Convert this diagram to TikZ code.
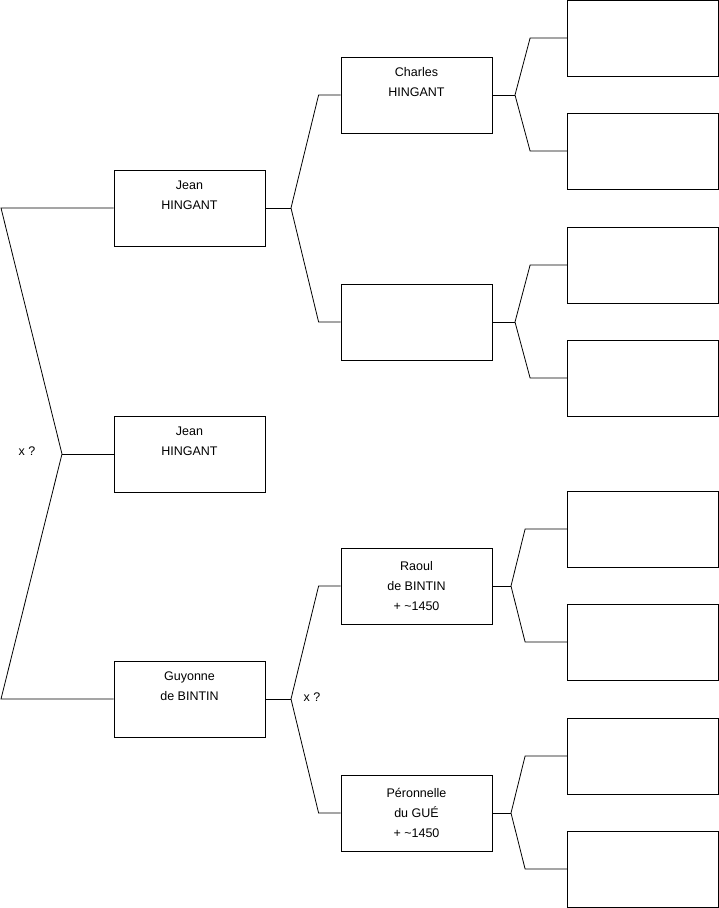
\documentclass[tikz,border=0pt]{standalone}
\usepackage{fontspec}
\setmainfont{Liberation Sans}
\usepackage{tikz}
\usetikzlibrary{positioning}

\begin{document}
\begin{tikzpicture}[
  x=1pt, y=-1pt,
  person/.style={draw, line width=0.8pt, align=center, minimum width=151pt,
              minimum height=76pt, inner sep=0pt, font=\fontsize{12.5}{20}\selectfont},
  tag/.style={font=\fontsize{12.5}{15}\selectfont, inner sep=0pt},
  link/.style={line width=0.8pt, line join=miter}
]
\useasboundingbox (0,0) rectangle (719,908);
% generation 1
\node[person] (jean) at (189.5,208) {Jean\\HINGANT\\\strut};
\node[person] (jeanb) at (189.5,454) {Jean\\HINGANT\\\strut};
\node[person] (guyonne) at (189.5,699) {Guyonne\\de BINTIN\\\strut};
% generation 2
\node[person] (charles) at (416.5,95) {Charles\\HINGANT\\\strut};
\node[person] (blank) at (416.5,322) {};
\node[person] (raoul) at (416.5,586) {Raoul\\de BINTIN\\+ \textasciitilde1450};
\node[person] (peronnelle) at (416.5,813) {Péronnelle\\du GUÉ\\+ \textasciitilde1450};
% generation 3
\node[person] (r1) at (643,38) {};
\node[person] (r2) at (643,151) {};
\node[person] (r3) at (643,265) {};
\node[person] (r4) at (643,378) {};
\node[person] (r5) at (643,529) {};
\node[person] (r6) at (643,642) {};
\node[person] (r7) at (643,756) {};
\node[person] (r8) at (643,869) {};
\node[tag] (xa) at (27,451) {x ?};
\node[tag] (xb) at (312,697) {x ?};
% forks
\coordinate (top) at (1,208);
\coordinate (bot) at (1,699);
\coordinate (fork) at (62,454);
\coordinate (kj) at (291,208);
\coordinate (kg) at (291,699);
\coordinate (kc) at (515,95);
\coordinate (kb) at (515,322);
\coordinate (kr) at (511,586);
\coordinate (kp) at (511,813);
\draw[link] (jean.west) -- (top) -- (fork) -- (bot) -- (guyonne.west);
\draw[link] (fork) -- (jeanb.west);
\draw[link] (jean.east) -- (kj);
\draw[link] (charles.west) -- ([xshift=-22pt]charles.west) -- (kj) -- ([xshift=-22pt]blank.west) -- (blank.west);
\draw[link] (guyonne.east) -- (kg);
\draw[link] (raoul.west) -- ([xshift=-22pt]raoul.west) -- (kg) -- ([xshift=-22pt]peronnelle.west) -- (peronnelle.west);
\draw[link] (charles.east) -- (kc);
\draw[link] (r1.west) -- ([xshift=-37pt]r1.west) -- (kc) -- ([xshift=-37pt]r2.west) -- (r2.west);
\draw[link] (blank.east) -- (kb);
\draw[link] (r3.west) -- ([xshift=-37pt]r3.west) -- (kb) -- ([xshift=-37pt]r4.west) -- (r4.west);
\draw[link] (raoul.east) -- (kr);
\draw[link] (r5.west) -- ([xshift=-42pt]r5.west) -- (kr) -- ([xshift=-42pt]r6.west) -- (r6.west);
\draw[link] (peronnelle.east) -- (kp);
\draw[link] (r7.west) -- ([xshift=-42pt]r7.west) -- (kp) -- ([xshift=-42pt]r8.west) -- (r8.west);
\end{tikzpicture}
\end{document}
